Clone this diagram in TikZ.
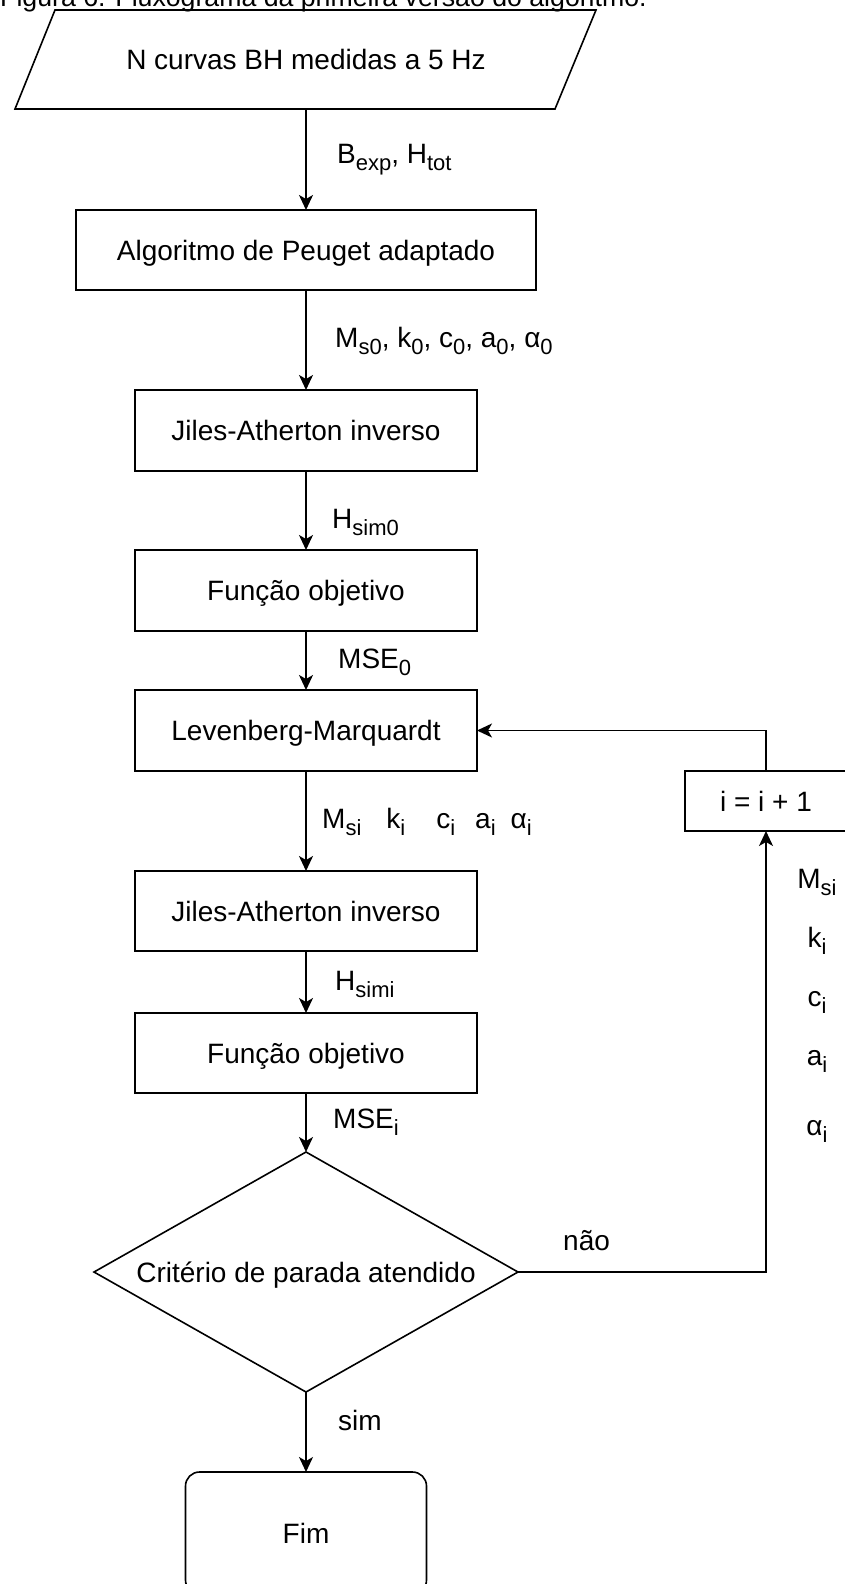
\documentclass[tikz,border=0pt]{standalone}
\usepackage{fontspec}
\setmainfont{Liberation Sans}
\usetikzlibrary{shapes.geometric,arrows.meta}

\newcommand{\diagfont}{\fontsize{28}{32}\selectfont}
\newcommand{\capfont}{\fontsize{26.7}{30}\selectfont}
\newcommand{\subidx}[1]{\raisebox{-7pt}{\fontsize{22}{24}\selectfont #1}}

\tikzset{
  flow/.style={line width=1.6pt, -{Stealth[length=15pt,width=14pt,inset=4pt]}},
  boxtext/.style={text height=20pt, text depth=0pt, inner sep=0pt, outer sep=0pt},
  procbox/.style={draw, line width=1.6pt, rectangle, boxtext,
    minimum width=342pt, minimum height=81pt},
  lbl/.style={anchor=base west, inner sep=0pt},
  sidelbl/.style={anchor=base, inner sep=0pt},
}

\begin{document}
\begin{tikzpicture}[x=1pt,y=-1pt,every node/.append style={font=\diagfont}]
\useasboundingbox (0,0) rectangle (844,1584);
% Caption, cut by the top of the page
\node[lbl, font=\capfont] (caption) at (0,6.5) {Figura 6. Fluxograma da primeira versão do algoritmo.};
% Input data (parallelogram)
\draw[line width=1.6pt] (55,10) -- (596,10) -- (555,109) -- (15,109) -- cycle;
\node[boxtext, minimum width=500pt, minimum height=99pt] (input) at (306,59.5) {N curvas BH medidas a 5 Hz};
% First pass
\node[procbox, minimum width=460pt, minimum height=80pt] (peuget) at (306,250) {Algoritmo de Peuget adaptado};
\node[procbox] (ja0) at (306,430.5) {Jiles-Atherton inverso};
\node[procbox] (obj0) at (306,590.5) {Função objetivo};
\node[procbox] (lm) at (306,730.5) {Levenberg-Marquardt};
% Iterations
\node[procbox, minimum height=80pt] (jai) at (306,911) {Jiles-Atherton inverso};
\node[procbox, minimum height=80pt] (obji) at (306,1053) {Função objetivo};
\node[draw, diamond, aspect=1.77, minimum width=424pt, minimum height=240pt,
  boxtext, line width=1.6pt] (stop) at (306,1272) {Critério de parada atendido};
\node[draw, rounded corners=14pt, minimum width=241pt, minimum height=122pt,
  boxtext, line width=1.6pt] (fim) at (306,1533) {Fim};
\node[procbox, minimum width=162pt, minimum height=60pt] (incr) at (766,801) {i = i + 1};
% Connectors
\draw[flow] (input.south) -- (peuget.north);
\draw[flow] (peuget.south) -- (ja0.north);
\draw[flow] (ja0.south) -- (obj0.north);
\draw[flow] (obj0.south) -- (lm.north);
\draw[flow] (lm.south) -- (jai.north);
\draw[flow] (jai.south) -- (obji.north);
\draw[flow] (obji.south) -- (stop.north);
\draw[flow] (stop.south) -- (fim.north);
\draw[flow] (stop.east) -| (incr.south);
\draw[flow] (incr.north) |- (lm.east);
% Labels on the connectors
\node[lbl] (lbexp) at (337,163) {B\subidx{exp}, H\subidx{tot}};
\node[lbl] (lpar0) at (335,347) {M\subidx{s0}, k\subidx{0}, c\subidx{0}, a\subidx{0}, α\subidx{0}};
\node[lbl] (lhsim0) at (332,528) {H\subidx{sim0}};
\node[lbl] (lmse0) at (338,668) {MSE\subidx{0}};
\node[lbl] (lpari) at (322,828) {M\subidx{si}\hspace{25pt}k\subidx{i}\hspace{31pt}c\subidx{i}\hspace{20pt}a\subidx{i}\hspace{15pt}α\subidx{i}};
\node[lbl] (lhsimi) at (335,990) {H\subidx{simi}};
\node[lbl] (lmsei) at (333,1128) {MSE\subidx{i}};
\node[lbl] (lnao) at (563,1250) {não};
\node[lbl] (lsim) at (338,1430) {sim};
% Parameters beside the loop
\node[sidelbl] (rms) at (817,888) {M\subidx{si}};
\node[sidelbl] (rk) at (817,947) {k\subidx{i}};
\node[sidelbl] (rc) at (817,1006) {c\subidx{i}};
\node[sidelbl] (ra) at (817,1065) {a\subidx{i}};
\node[sidelbl] (ralpha) at (817,1135) {α\subidx{i}};
\end{tikzpicture}
\end{document}
